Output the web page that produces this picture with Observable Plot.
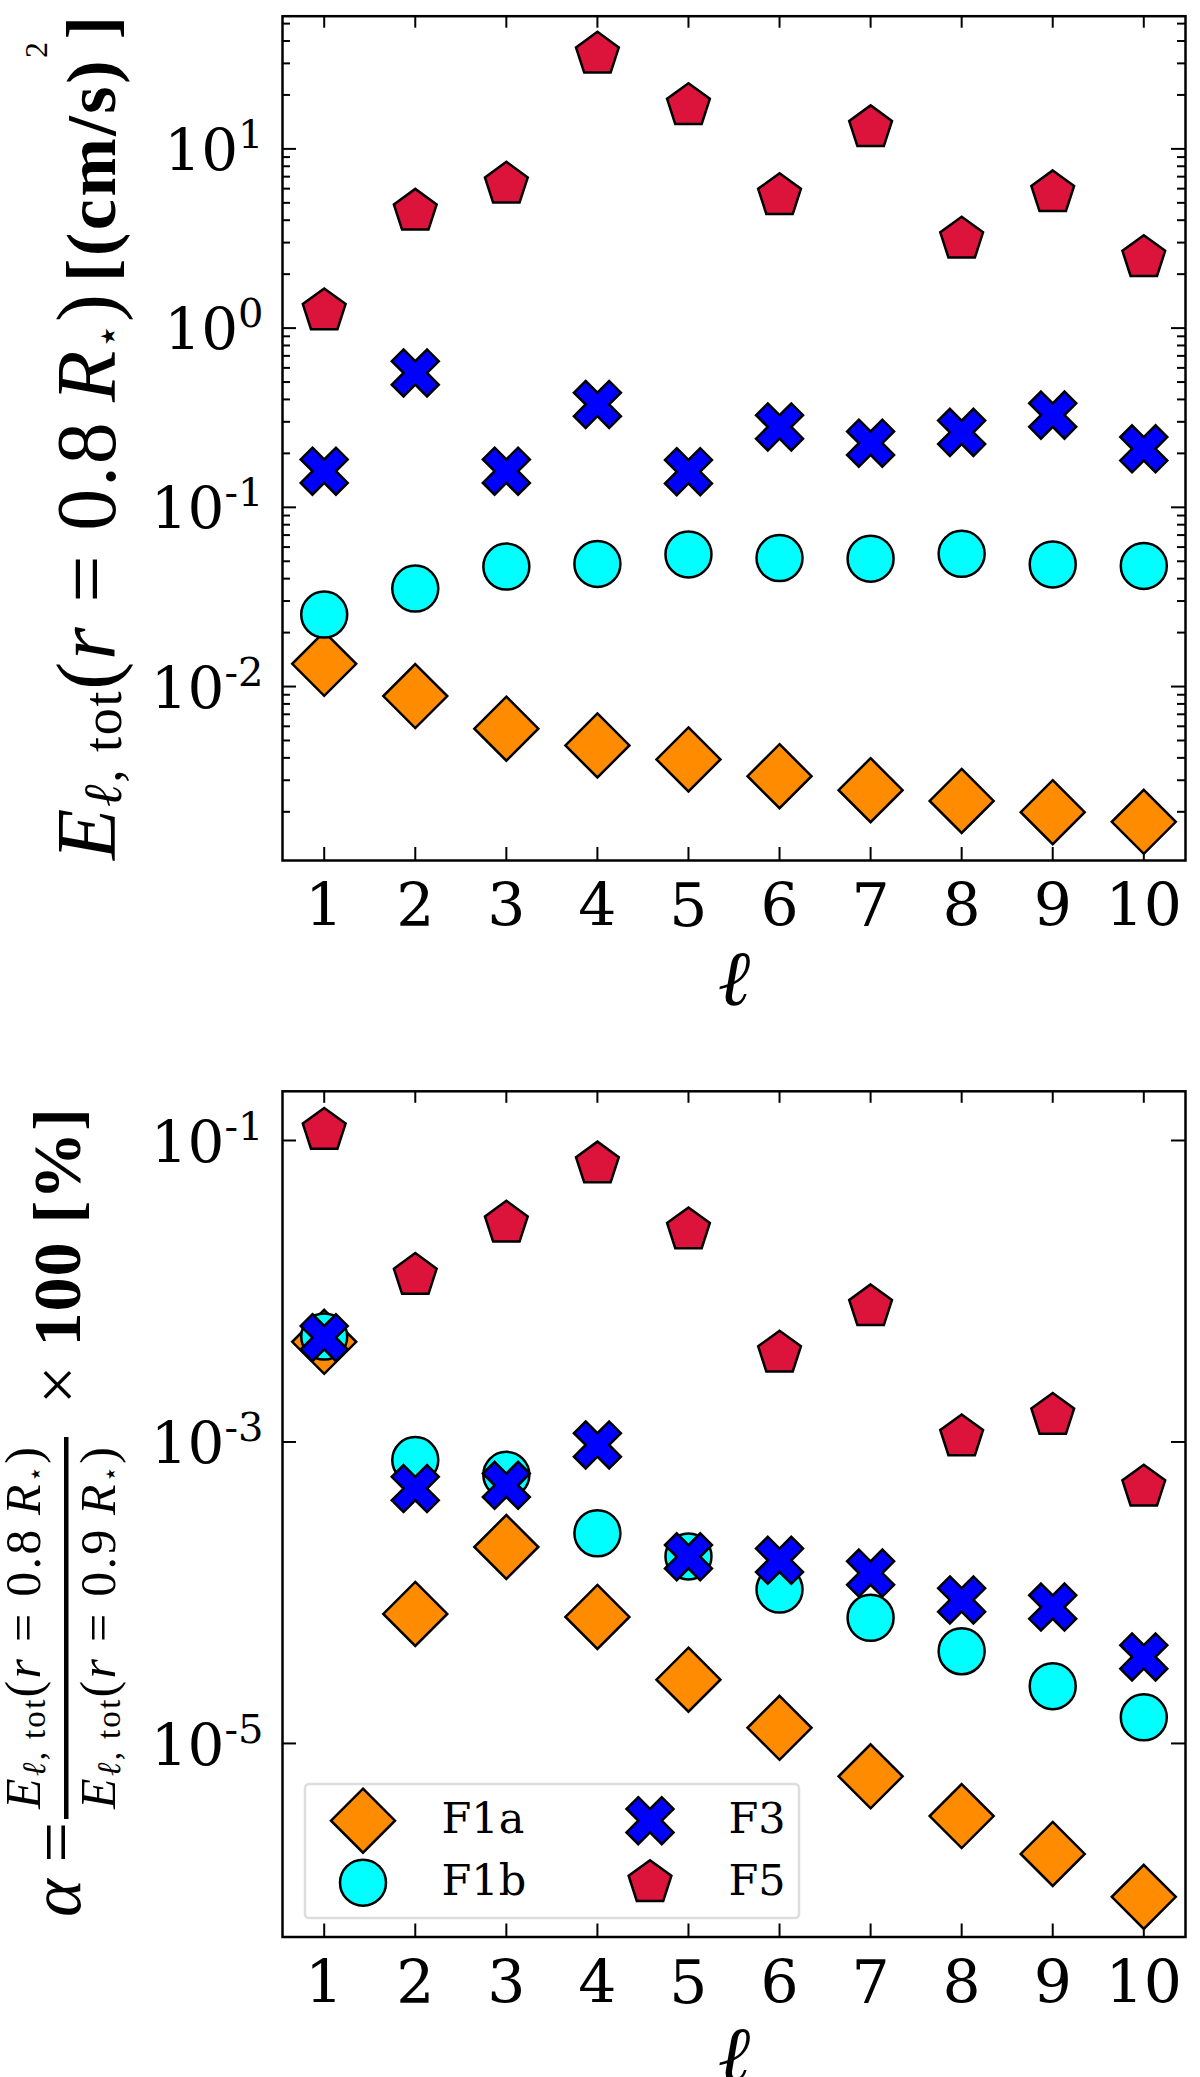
<!DOCTYPE html>
<html>
<head>
<meta charset="utf-8">
<script src="https://cdn.jsdelivr.net/npm/d3@7"></script>
<script src="https://cdn.jsdelivr.net/npm/@observablehq/plot@0.6"></script>
<style>
  body { margin: 0; background: white; }
  svg { display: block; }
</style>
</head>
<body>
<div id="chart"></div>
<script>
// harmonic degree
const ell = [1, 2, 3, 4, 5, 6, 7, 8, 9, 10]
const seriesNames = ['F1a', 'F1b', 'F3', 'F5']
const seriesColors = ['#ff8c00', '#00ffff', '#0000ff', '#dc143c']

// top panel: E_l,tot(r = 0.8 R*) [(cm/s)^2]
const energyF1a = [0.0134, 0.00885, 0.00582, 0.00469, 0.00392, 0.00316, 0.00264, 0.00230, 0.00199, 0.00176]
const energyF1b = [0.0252, 0.0352, 0.0467, 0.0483, 0.0546, 0.0521, 0.0517, 0.0550, 0.0480, 0.0471]
const energyF3 = [0.159, 0.562, 0.159, 0.375, 0.158, 0.281, 0.228, 0.262, 0.327, 0.212]
const energyF5 = [1.245, 4.48, 6.34, 33.7, 17.4, 5.48, 13.1, 3.13, 5.68, 2.47]

// bottom panel: alpha = E(0.8 R*) / E(0.9 R*) x 100 [%]
const ratioF1a = [0.00462, 7.23e-5, 2.01e-4, 6.91e-5, 2.65e-5, 1.27e-5, 6.05e-6, 3.30e-6, 1.85e-6, 9.6e-7]
const ratioF1b = [0.0050, 7.59e-4, 6.05e-4, 2.48e-4, 1.74e-4, 1.05e-4, 6.82e-5, 4.09e-5, 2.40e-5, 1.49e-5]
const ratioF3 = [0.00492, 4.91e-4, 5.16e-4, 9.55e-4, 1.73e-4, 1.64e-4, 1.35e-4, 8.95e-5, 8.03e-5, 3.75e-5]
const ratioF5 = [0.1164, 0.0127, 0.0282, 0.0697, 0.0255, 0.00388, 0.00787, 0.00108, 0.00150, 0.000501]

const energyTicks = [1e-2, 1e-1, 1e0, 1e1]
const ratioTicks = [1e-1, 1e-3, 1e-5]

const MATH = 'Liberation Serif'
const TEXT = 'DejaVu Serif'

// marker shapes (matplotlib D, o, X, p)
const rad = size => Math.sqrt(size / Math.PI)
const diamondSym = { draw(c, size) { const s = rad(size); c.moveTo(0, -s); c.lineTo(s, 0); c.lineTo(0, s); c.lineTo(-s, 0); c.closePath() } }
const circleSym = { draw(c, size) { const s = rad(size); c.moveTo(s, 0); c.arc(0, 0, s, 0, 2 * Math.PI); c.closePath() } }
const xSym = { draw(c, size) {
  const u = rad(size) / 2
  const pts = [[-1, -2], [0, -1], [1, -2], [2, -1], [1, 0], [2, 1], [1, 2], [0, 1], [-1, 2], [-2, 1], [-1, 0], [-2, -1]]
  pts.forEach(([x, y], i) => i ? c.lineTo(x * u, y * u) : c.moveTo(x * u, y * u))
  c.closePath()
} }
const pentSym = { draw(c, size) {
  const s = rad(size)
  for (let i = 0; i < 5; i++) {
    const a = -Math.PI / 2 + i * 2 * Math.PI / 5
    i ? c.lineTo(s * Math.cos(a), s * Math.sin(a)) : c.moveTo(s * Math.cos(a), s * Math.sin(a))
  }
  c.closePath()
} }
const seriesSymbols = [diamondSym, circleSym, xSym, pentSym]
const seriesRadius = [32, 23, 23.5, 22.5]

const W = 1200, mL = 282, mR = 15
const xDomain = [0.542, 10.458]

function panel({ values, yDomain, majors, minors, height, mT, mB }) {
  const fw = W - mL - mR
  const fh = height - mT - mB
  const tick = { stroke: 'black', strokeWidth: 2 }
  const marks = [
    Plot.tickX(ell, { x: d => d, insetTop: fh - 13, ...tick }),
    Plot.tickX(ell, { x: d => d, insetBottom: fh - 12, ...tick }),
    Plot.tickY(majors, { y: d => d, insetRight: fw - 14, ...tick }),
    Plot.tickY(majors, { y: d => d, insetLeft: fw - 14, ...tick }),
    Plot.tickY(minors, { y: d => d, insetRight: fw - 8, ...tick }),
    Plot.tickY(minors, { y: d => d, insetLeft: fw - 8, ...tick }),
    Plot.axisX({ ticks: ell, label: null, tickSize: 0, tickPadding: 23, fontSize: 60, tickFormat: d => String(d) }),
    Plot.axisY({ ticks: majors, label: null, tickSize: 0, tickPadding: 19, fontSize: 58, dy: 2.5,
      tickFormat: d => '10^' + Math.round(Math.log10(d)) })
  ]
  values.forEach((vals, k) => {
    marks.push(Plot.dot(ell.map((l, i) => ({ ell: l, value: vals[i] })), {
      x: 'ell', y: 'value',
      symbol: seriesSymbols[k], r: seriesRadius[k],
      fill: seriesColors[k], stroke: 'black', strokeWidth: 2.5
    }))
  })
  marks.push(Plot.frame({ stroke: 'black', strokeWidth: 2.5 }))
  marks.push(Plot.text(['ℓ'], { text: d => d, frameAnchor: 'bottom', lineAnchor: 'top', dy: 89,
    fontSize: 78, fontStyle: 'italic', fontFamily: MATH }))

  const svg = Plot.plot({
    width: W, height,
    marginLeft: mL, marginRight: mR, marginTop: mT, marginBottom: mB,
    x: { domain: xDomain },
    y: { type: 'log', domain: yDomain },
    style: { fontFamily: TEXT, color: 'black', background: 'white', overflow: 'visible' },
    marks
  })

  // 10^k tick labels with raised exponent
  d3.select(svg).selectAll('[aria-label="y-axis tick label"] text').each(function () {
    const [base, exp] = this.textContent.split('^')
    const t = d3.select(this).text(null)
    t.append('tspan').text(base)
    t.append('tspan').attr('dy', -22).attr('font-size', 40).text(exp)
  })
  return svg
}

function addRun(text, parts) {
  let shift = 0
  for (const p of parts) {
    const ts = text.append('tspan').text(p.t)
      .attr('font-family', p.f || MATH).attr('font-size', p.s)
      .attr('font-style', p.it ? 'italic' : 'normal')
      .attr('font-weight', p.w || 'normal')
    const sh = p.sh || 0
    if (sh !== shift) { ts.attr('dy', sh - shift); shift = sh }
  }
  return text
}

// a label line at local x, stretched to the length it has in the figure
function labelText(g, x, y, length, anchor, parts) {
  const t = g.append('text').style('white-space', 'pre')
    .attr('x', x).attr('y', y).attr('text-anchor', anchor).attr('fill', 'black')
    .attr('textLength', length).attr('lengthAdjust', 'spacing')
  return addRun(t, parts)
}

const energyMinors = d3.scaleLog().domain([1.07e-3, 55]).ticks().filter(d => !energyTicks.some(m => Math.abs(m - d) / m < 1e-6))

const topSvg = panel({
  values: [energyF1a, energyF1b, energyF3, energyF5],
  yDomain: [1.07e-3, 55], majors: energyTicks, minors: energyMinors,
  height: 1005, mT: 15.7, mB: 145
})
const botSvg = panel({
  values: [ratioF1a, ratioF1b, ratioF3, ratioF5],
  yDomain: [5.2e-7, 0.212], majors: ratioTicks, minors: [],
  height: 1072, mT: 85.8, mB: 140.5
})
d3.select('#chart').append(() => topSvg)
d3.select('#chart').append(() => botSvg)

// y label, top panel (reads upward from the bottom of the frame)
const eLabel = [
  { t: 'E', it: true, s: 84 },
  { t: 'ℓ', it: true, s: 54, sh: 6 },
  { t: ', tot', s: 54, sh: 6 },
  { t: '(', s: 84 },
  { t: 'r', it: true, s: 84 },
  { t: ' = ', s: 84 },
  { t: '0.8', s: 84 },
  { t: '\u2009', s: 84 },
  { t: 'R', it: true, s: 84 },
  { t: '⋆', f: 'DejaVu Sans', s: 40, sh: 6 },
  { t: ')', s: 84 }
]
const unitLabel = [
  { t: '[(cm/s)', w: 'bold', s: 70 },
  { t: '2', s: 32, sh: -68 },
  { t: ']', w: 'bold', s: 70 }
]
{
  const g = d3.select(topSvg).append('g').attr('transform', 'translate(115,860) rotate(-90)')
  labelText(g, 0, 0, 566, 'start', eLabel)
  labelText(g, 578, 0, 266, 'start', unitLabel)
}

// y label, bottom panel: alpha = num / den x 100 [%]
const fracPart = r => [
  { t: 'E', it: true, s: 50 },
  { t: 'ℓ', it: true, s: 33, sh: 5 },
  { t: ', tot', s: 33, sh: 5 },
  { t: '(', s: 50 },
  { t: 'r', it: true, s: 50 },
  { t: ' = ', s: 50 },
  { t: r, s: 50 },
  { t: '\u2009', s: 50 },
  { t: 'R', it: true, s: 50 },
  { t: '⋆', f: 'DejaVu Sans', s: 26, sh: 4 },
  { t: ')', s: 50 }
]
{
  const g = d3.select(botSvg).append('g').attr('transform', 'translate(80,912) rotate(-90)')
  labelText(g, 0, 0, 95, 'start', [{ t: 'α', it: true, s: 72 }, { t: ' =', s: 72 }])
  labelText(g, 289, -40, 362, 'middle', fracPart('0.8'))
  labelText(g, 289, 35, 362, 'middle', fracPart('0.9'))
  g.append('rect').attr('x', 98).attr('y', -16).attr('width', 382).attr('height', 4.5).attr('fill', 'black')
  labelText(g, 513, 0, 296, 'start', [{ t: '× ', s: 68 }, { t: '100 [%]', w: 'bold', s: 68 }])
}

// legend, lower left inside the bottom frame
{
  const fB = 1072 - 140.5
  const g = d3.select(botSvg).append('g')
  const bx = mL + 23, by = fB - 18.5 - 134
  g.append('rect').attr('x', bx).attr('y', by).attr('width', 494).attr('height', 134).attr('rx', 4)
    .attr('fill', 'white').attr('fill-opacity', 0.8).attr('stroke', '#dddddd').attr('stroke-width', 2.5)
  seriesNames.forEach((name, k) => {
    const col = Math.floor(k / 2), row = k % 2
    const mx = bx + 58 + col * 287, my = by + 36.7 + row * 62
    g.append('path').attr('transform', `translate(${mx},${my})`)
      .attr('d', d3.symbol(seriesSymbols[k], Math.PI * seriesRadius[k] ** 2)())
      .attr('fill', seriesColors[k]).attr('stroke', 'black').attr('stroke-width', 2.5)
    g.append('text').attr('x', mx + 78.5).attr('y', my + 12).attr('text-anchor', 'start')
      .attr('font-family', TEXT).attr('font-size', 43).attr('fill', 'black').text(name)
  })
}
</script>
</body>
</html>
